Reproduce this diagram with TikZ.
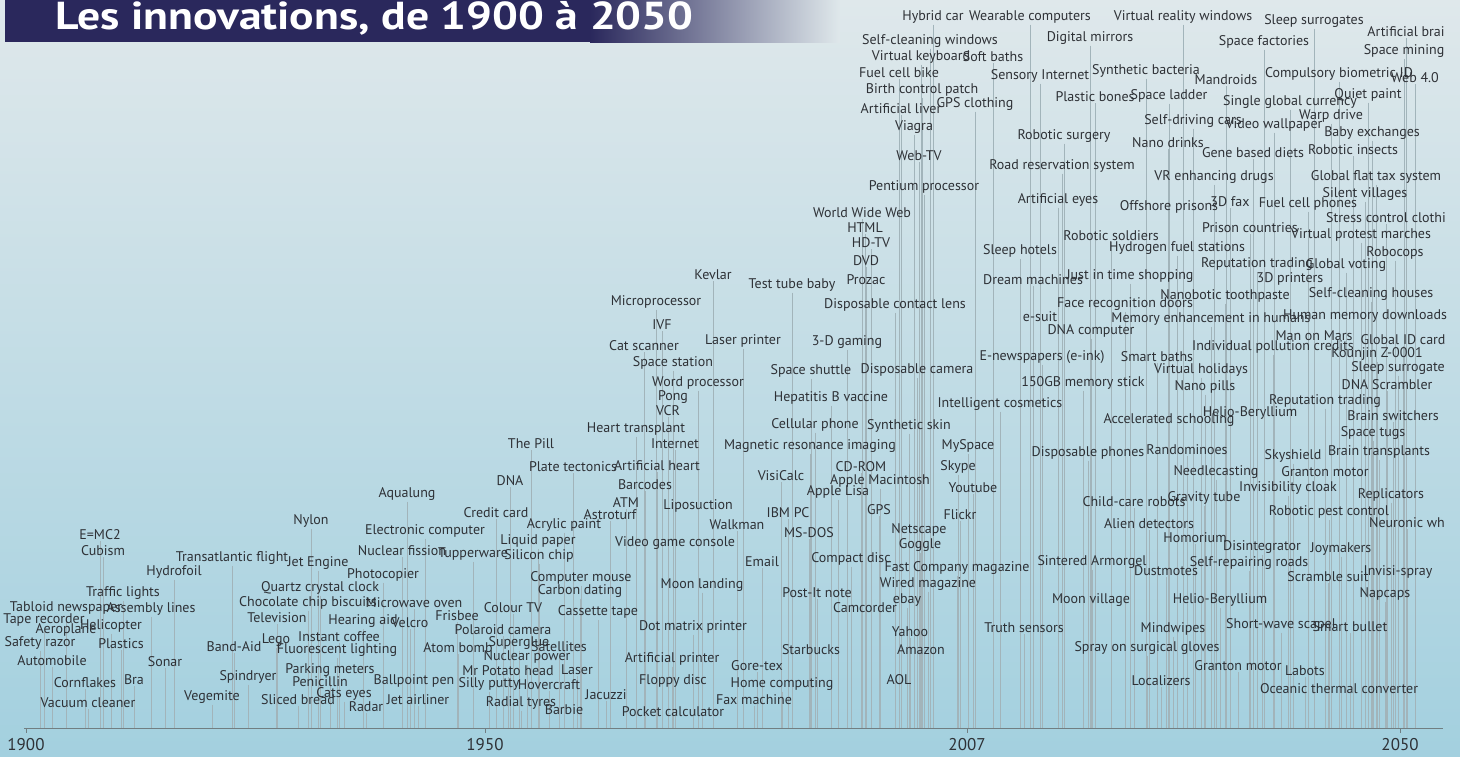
\documentclass[tikz,border=0pt]{standalone}
\usepackage{fontspec}
\setmainfont{PT Sans}
\newfontfamily\titlefont[FakeStretch=1.17]{PT Sans}
\usetikzlibrary{backgrounds}
\definecolor{bgtop}{HTML}{DFE8EB}
\definecolor{bgmid}{HTML}{C4DFE7}
\definecolor{bgbot}{HTML}{A3D0DF}
\definecolor{navy}{HTML}{2A285C}
\definecolor{inktext}{HTML}{2E3136}
\definecolor{stemgray}{HTML}{A2B4BA}

\begin{document}
\begin{tikzpicture}[x=0.5pt,y=-0.5pt,
    lbl/.style={font=\fontsize{7}{8}\selectfont,text=inktext,inner sep=0.4pt},
    year/.style={font=\fontsize{8.5}{10}\selectfont,text=inktext,inner sep=0.5pt},
    stem/.style={draw=stemgray,line width=0.2pt},
    axisline/.style={draw=stemgray!70!black,line width=0.4pt},
    title/.style={font=\titlefont\fontsize{19.5}{21}\selectfont\bfseries,text=white,anchor=base west,inner sep=0pt}]
    \useasboundingbox (0,0) rectangle (1460,756);
    \begin{scope}[on background layer]
        \shade[top color=bgtop, middle color=bgmid, bottom color=bgbot] (0,0) rectangle (1460,756);
        \fill[navy] (5,0) rectangle (590,42);
        \shade[left color=navy, right color=bgtop] (590,0) rectangle (840,42);
    \end{scope}

    \node[title] (title) at (55,29) {Les innovations, de 1900 à 2050};

    \coordinate (axL) at (24,728);
    \coordinate (axR) at (1443,728);

    \node[lbl] (1) at (88,703) {Vacuum cleaner};
    \node[lbl] (2) at (85,683) {Cornflakes};
    \node[lbl] (3) at (134,680) {Bra};
    \node[lbl] (4) at (52,661) {Automobile};
    \node[lbl] (5) at (165,662) {Sonar};
    \node[lbl] (6) at (40,643) {Safety razor};
    \node[lbl] (7) at (121,644) {Plastics};
    \node[lbl] (8) at (66,630) {Aeroplane};
    \node[lbl] (9) at (111,626) {Helicopter};
    \node[lbl] (10) at (44,620) {Tape recorder};
    \node[lbl] (11) at (66,608) {Tabloid newspaper};
    \node[lbl] (12) at (151,609) {Assembly lines};
    \node[lbl] (13) at (123,593) {Traffic lights};
    \node[lbl] (14) at (174,572) {Hydrofoil};
    \node[lbl] (15) at (103,551) {Cubism};
    \node[lbl] (16) at (100,535) {E=MC2};
    \node[lbl] (17) at (232,558) {Transatlantic flight};
    \node[lbl] (18) at (212,697) {Vegemite};
    \node[lbl] (19) at (248,677) {Spindryer};
    \node[lbl] (20) at (234,647) {Band-Aid};
    \node[lbl] (21) at (298,700) {Sliced bread};
    \node[lbl] (22) at (276,640) {Lego};
    \node[lbl] (23) at (277,618) {Television};
    \node[lbl] (24) at (308,603) {Chocolate chip biscuits};
    \node[lbl] (25) at (320,588) {Quartz crystal clock};
    \node[lbl] (26) at (318,563) {Jet Engine};
    \node[lbl] (27) at (311,521) {Nylon};
    \node[lbl] (28) at (330,670) {Parking meters};
    \node[lbl] (29) at (320,682) {Penicillin};
    \node[lbl] (30) at (344,694) {Cats eyes};
    \node[lbl] (31) at (366,707) {Radar};
    \node[lbl] (32) at (337,650) {Fluorescent lighting};
    \node[lbl] (33) at (339,637) {Instant coffee};
    \node[lbl] (34) at (363,621) {Hearing aid};
    \node[lbl] (35) at (383,575) {Photocopier};
    \node[lbl] (36) at (402,551) {Nuclear fission};
    \node[lbl] (37) at (425,531) {Electronic computer};
    \node[lbl] (38) at (407,494) {Aqualung};
    \node[lbl] (39) at (414,603) {Microwave oven};
    \node[lbl] (40) at (410,623) {Velcro};
    \node[lbl] (41) at (414,681) {Ballpoint pen};
    \node[lbl] (42) at (418,700) {Jet airliner};
    \node[lbl] (43) at (457,616) {Frisbee};
    \node[lbl] (44) at (458,648) {Atom bomb};
    \node[lbl] (45) at (473,554) {Tupperware};
    \node[lbl] (46) at (496,513) {Credit card};
    \node[lbl] (47) at (503,630) {Polaroid camera};
    \node[lbl] (48) at (513,608) {Colour TV};
    \node[lbl] (49) at (508,671) {Mr Potato head};
    \node[lbl] (50) at (489,684) {Silly putty};
    \node[lbl] (51) at (521,703) {Radial tyres};
    \node[lbl] (52) at (519,643) {Superglue};
    \node[lbl] (53) at (527,657) {Nuclear power};
    \node[lbl] (54) at (559,647) {Satellites};
    \node[lbl] (55) at (549,685) {Hovercraft};
    \node[lbl] (56) at (564,710) {Barbie};
    \node[lbl] (57) at (577,670) {Laser};
    \node[lbl] (58) at (539,556) {Silicon chip};
    \node[lbl] (59) at (538,541) {Liquid paper};
    \node[lbl] (60) at (564,525) {Acrylic paint};
    \node[lbl] (61) at (510,481) {DNA};
    \node[lbl] (62) at (531,444) {The Pill};
    \node[lbl] (63) at (573,467) {Plate tectonics};
    \node[lbl] (64) at (581,578) {Computer mouse};
    \node[lbl] (65) at (580,591) {Carbon dating};
    \node[lbl] (66) at (598,612) {Cassette tape};
    \node[lbl] (67) at (606,695) {Jacuzzi};
    \node[lbl] (68) at (610,515) {Astroturf};
    \node[lbl] (69) at (626,503) {ATM};
    \node[lbl] (70) at (645,485) {Barcodes};
    \node[lbl] (71) at (657,466) {Artificial heart};
    \node[lbl] (72) at (675,444) {Internet};
    \node[lbl] (73) at (636,429) {Heart transplant};
    \node[lbl] (74) at (668,411) {VCR};
    \node[lbl] (75) at (673,397) {Pong};
    \node[lbl] (76) at (698,383) {Word processor};
    \node[lbl] (77) at (673,363) {Space station};
    \node[lbl] (78) at (644,346) {Cat scanner};
    \node[lbl] (79) at (662,325) {IVF};
    \node[lbl] (80) at (656,302) {Microprocessor};
    \node[lbl] (81) at (713,275) {Kevlar};
    \node[lbl] (82) at (698,506) {Liposuction};
    \node[lbl] (83) at (675,543) {Video game console};
    \node[lbl] (84) at (702,585) {Moon landing};
    \node[lbl] (85) at (693,627) {Dot matrix printer};
    \node[lbl] (86) at (672,659) {Artificial printer};
    \node[lbl] (87) at (673,681) {Floppy disc};
    \node[lbl] (88) at (673,712) {Pocket calculator};
    \node[lbl] (89) at (754,700) {Fax machine};
    \node[lbl] (90) at (782,684) {Home computing};
    \node[lbl] (91) at (757,666) {Gore-tex};
    \node[lbl] (92) at (737,525) {Walkman};
    \node[lbl] (93) at (762,562) {Email};
    \node[lbl] (94) at (743,341) {Laser printer};
    \node[lbl] (95) at (792,285) {Test tube baby};
    \node[lbl] (96) at (811,371) {Space shuttle};
    \node[lbl] (97) at (831,398) {Hepatitis B vaccine};
    \node[lbl] (98) at (815,425) {Cellular phone};
    \node[lbl] (99) at (810,446) {Magnetic resonance imaging};
    \node[lbl] (100) at (781,476) {VisiCalc};
    \node[lbl] (101) at (838,492) {Apple Lisa};
    \node[lbl] (102) at (861,467) {CD-ROM};
    \node[lbl] (103) at (880,481) {Apple Macintosh};
    \node[lbl] (104) at (788,513) {IBM PC};
    \node[lbl] (105) at (809,533) {MS-DOS};
    \node[lbl] (106) at (811,650) {Starbucks};
    \node[lbl] (107) at (817,593) {Post-It note};
    \node[lbl] (108) at (851,559) {Compact disc};
    \node[lbl] (109) at (865,608) {Camcorder};
    \node[lbl] (110) at (847,342) {3-D gaming};
    \node[lbl] (111) at (895,305) {Disposable contact lens};
    \node[lbl] (112) at (866,280) {Prozac};
    \node[lbl] (113) at (866,261) {DVD};
    \node[lbl] (114) at (871,243) {HD-TV};
    \node[lbl] (115) at (865,228) {HTML};
    \node[lbl] (116) at (862,213) {World Wide Web};
    \node[lbl] (117) at (924,187) {Pentium processor};
    \node[lbl] (118) at (919,156) {Web-TV};
    \node[lbl] (119) at (914,127) {Viagra};
    \node[lbl] (120) at (901,109) {Artificial liver};
    \node[lbl] (121) at (922,90) {Birth control patch};
    \node[lbl] (122) at (899,73) {Fuel cell bike};
    \node[lbl] (123) at (921,57) {Virtual keyboard};
    \node[lbl] (124) at (930,41) {Self-cleaning windows};
    \node[lbl] (125) at (933,17) {Hybrid car};
    \node[lbl] (126) at (975,104) {GPS clothing};
    \node[lbl] (127) at (993,57) {Soft baths};
    \node[lbl] (128) at (1030,17) {Wearable computers};
    \node[lbl] (129) at (879,510) {GPS};
    \node[lbl] (130) at (899,680) {AOL};
    \node[lbl] (131) at (907,600) {ebay};
    \node[lbl] (132) at (910,632) {Yahoo};
    \node[lbl] (133) at (921,650) {Amazon};
    \node[lbl] (134) at (928,584) {Wired magazine};
    \node[lbl] (135) at (919,530) {Netscape};
    \node[lbl] (136) at (920,545) {Goggle};
    \node[lbl] (137) at (957,568) {Fast Company magazine};
    \node[lbl] (138) at (917,370) {Disposable camera};
    \node[lbl] (139) at (909,426) {Synthetic skin};
    \node[lbl] (140) at (968,446) {MySpace};
    \node[lbl] (141) at (958,467) {Skype};
    \node[lbl] (142) at (973,488) {Youtube};
    \node[lbl] (143) at (960,515) {Flickr};
    \node[lbl] (144) at (1000,404) {Intelligent cosmetics};
    \node[lbl] (145) at (1024,628) {Truth sensors};
    \node[lbl] (146) at (1040,76) {Sensory Internet};
    \node[lbl] (147) at (1090,38) {Digital mirrors};
    \node[lbl] (148) at (1095,97) {Plastic bones};
    \node[lbl] (149) at (1064,136) {Robotic surgery};
    \node[lbl] (150) at (1062,166) {Road reservation system};
    \node[lbl] (151) at (1058,200) {Artificial eyes};
    \node[lbl] (152) at (1020,251) {Sleep hotels};
    \node[lbl] (153) at (1111,236) {Robotic soldiers};
    \node[lbl] (154) at (1033,280) {Dream machines};
    \node[lbl] (155) at (1130,276) {Just in time shopping};
    \node[lbl] (156) at (1125,304) {Face recognition doors};
    \node[lbl] (157) at (1040,317) {e-suit};
    \node[lbl] (158) at (1091,331) {DNA computer};
    \node[lbl] (159) at (1042,357) {E-newspapers (e-ink)};
    \node[lbl] (160) at (1083,383) {150GB memory stick};
    \node[lbl] (161) at (1088,453) {Disposable phones};
    \node[lbl] (162) at (1092,562) {Sintered Armorgel};
    \node[lbl] (163) at (1091,600) {Moon village};
    \node[lbl] (164) at (1147,648) {Spray on surgical gloves};
    \node[lbl] (165) at (1161,681) {Localizers};
    \node[lbl] (166) at (1173,629) {Mindwipes};
    \node[lbl] (167) at (1166,571) {Dustmotes};
    \node[lbl] (168) at (1149,524) {Alien detectors};
    \node[lbl] (169) at (1134,502) {Child-care robots};
    \node[lbl] (170) at (1195,538) {Homorium};
    \node[lbl] (171) at (1204,498) {Gravity tube};
    \node[lbl] (172) at (1169,420) {Accelerated schooling};
    \node[lbl] (173) at (1187,450) {Randominoes};
    \node[lbl] (174) at (1216,472) {Needlecasting};
    \node[lbl] (175) at (1205,387) {Nano pills};
    \node[lbl] (176) at (1201,370) {Virtual holidays};
    \node[lbl] (177) at (1157,357) {Smart baths};
    \node[lbl] (178) at (1273,347) {Individual pollution credits};
    \node[lbl] (179) at (1211,319) {Memory enhancement in humans};
    \node[lbl] (180) at (1225,296) {Nanobotic toothpaste};
    \node[lbl] (181) at (1177,248) {Hydrogen fuel stations};
    \node[lbl] (182) at (1169,207) {Offshore prisons};
    \node[lbl] (183) at (1214,177) {VR enhancing drugs};
    \node[lbl] (184) at (1168,143) {Nano drinks};
    \node[lbl] (185) at (1193,121) {Self-driving cars};
    \node[lbl] (186) at (1169,96) {Space ladder};
    \node[lbl] (187) at (1146,71) {Synthetic bacteria};
    \node[lbl] (188) at (1183,17) {Virtual reality windows};
    \node[lbl] (189) at (1264,42) {Space factories};
    \node[lbl] (190) at (1226,80) {Mandroids};
    \node[lbl] (191) at (1290,102) {Single global currency};
    \node[lbl] (192) at (1274,125) {Video wallpaper};
    \node[lbl] (193) at (1253,153) {Gene based diets};
    \node[lbl] (194) at (1230,202) {3D fax};
    \node[lbl] (195) at (1250,228) {Prison countries};
    \node[lbl] (196) at (1257,264) {Reputation trading};
    \node[lbl] (197) at (1290,279) {3D printers};
    \node[lbl] (198) at (1308,204) {Fuel cell phones};
    \node[lbl] (199) at (1250,413) {Helio-Beryllium};
    \node[lbl] (200) at (1325,401) {Reputation trading};
    \node[lbl] (201) at (1293,456) {Skyshield};
    \node[lbl] (202) at (1325,472) {Granton motor};
    \node[lbl] (203) at (1288,488) {Invisibility cloak};
    \node[lbl] (204) at (1329,512) {Robotic pest control};
    \node[lbl] (205) at (1262,547) {Disintegrator};
    \node[lbl] (206) at (1249,563) {Self-repairing roads};
    \node[lbl] (207) at (1220,600) {Helio-Beryllium};
    \node[lbl] (208) at (1281,625) {Short-wave scapel};
    \node[lbl] (209) at (1238,666) {Granton motor};
    \node[lbl] (210) at (1305,671) {Labots};
    \node[lbl] (211) at (1339,689) {Oceanic thermal converter};
    \node[lbl] (212) at (1350,627) {Smart bullet};
    \node[lbl] (213) at (1328,577) {Scramble suit};
    \node[lbl] (214) at (1341,549) {Joymakers};
    \node[lbl] (215) at (1385,594) {Napcaps};
    \node[lbl] (216) at (1398,572) {Invisi-spray};
    \node[lbl] (217) at (1407,523) {Neuronic wh};
    \node[lbl] (218) at (1391,495) {Replicators};
    \node[lbl] (219) at (1379,452) {Brain transplants};
    \node[lbl] (220) at (1373,433) {Space tugs};
    \node[lbl] (221) at (1393,416) {Brain switchers};
    \node[lbl] (222) at (1387,385) {DNA Scrambler};
    \node[lbl] (223) at (1398,368) {Sleep surrogate};
    \node[lbl] (224) at (1377,354) {Kounjin Z-0001};
    \node[lbl] (225) at (1314,336) {Man on Mars};
    \node[lbl] (226) at (1403,340) {Global ID card};
    \node[lbl] (227) at (1365,316) {Human memory downloads};
    \node[lbl] (228) at (1371,294) {Self-cleaning houses};
    \node[lbl] (229) at (1346,265) {Global voting};
    \node[lbl] (230) at (1395,253) {Robocops};
    \node[lbl] (231) at (1361,235) {Virtual protest marches};
    \node[lbl] (232) at (1386,218) {Stress control clothi};
    \node[lbl] (233) at (1365,194) {Silent villages};
    \node[lbl] (234) at (1376,177) {Global flat tax system};
    \node[lbl] (235) at (1353,150) {Robotic insects};
    \node[lbl] (236) at (1372,133) {Baby exchanges};
    \node[lbl] (237) at (1331,116) {Warp drive};
    \node[lbl] (238) at (1368,95) {Quiet paint};
    \node[lbl] (239) at (1339,74) {Compulsory biometric ID};
    \node[lbl] (240) at (1415,78) {Web 4.0};
    \node[lbl] (241) at (1404,51) {Space mining};
    \node[lbl] (242) at (1406,32) {Artificial brai};
    \node[lbl] (243) at (1314,21) {Sleep surrogates};

    \node[year] (y1900) at (26,745) {1900};
    \node[year] (y1950) at (485,745) {1950};
    \node[year] (y2007) at (967,745) {2007};
    \node[year] (y2050) at (1400,745) {2050};

    \begin{scope}[on background layer]
        \foreach \n in {1,...,243}
            \draw[stem] (\n.south) -- (\n.south |- axL);
    \end{scope}
    \draw[axisline] (axL) -- (axR);
    \foreach \y in {y1900,y1950,y2007,y2050}
        \draw[axisline] (\y.north |- axL) -- ++(0,5);
\end{tikzpicture}
\end{document}
